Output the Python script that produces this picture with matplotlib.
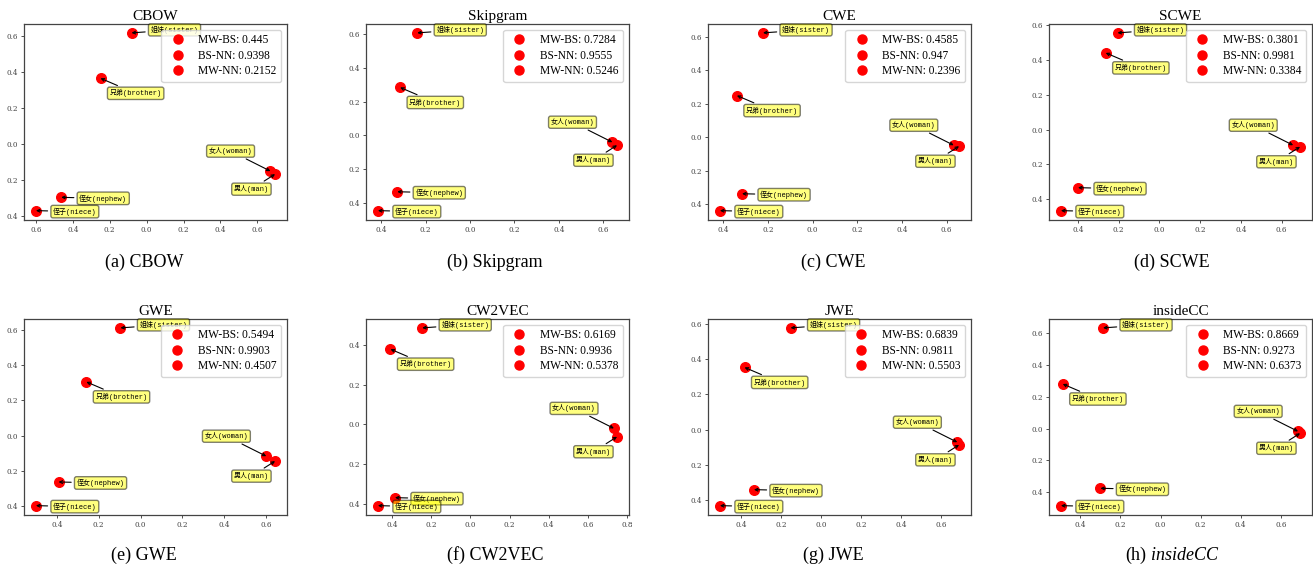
import matplotlib
matplotlib.use('Agg')
import matplotlib.pyplot as plt
from matplotlib.lines import Line2D
from matplotlib.ticker import FuncFormatter, MultipleLocator

plt.rcParams['font.family'] = ['Liberation Serif', 'Noto Sans CJK SC']
plt.rcParams['mathtext.fontset'] = 'custom'
plt.rcParams['mathtext.it'] = 'Liberation Serif:italic'
plt.rcParams['mathtext.rm'] = 'Liberation Serif'

# data
models = ['CBOW', 'Skipgram', 'CWE', 'SCWE', 'GWE', 'CW2VEC', 'JWE', 'insideCC']
captions = ['(a) CBOW', '(b) Skipgram', '(c) CWE', '(d) SCWE',
            '(e) GWE', '(f) CW2VEC', '(g) JWE', r'(h) $\mathit{insideCC}$']
words = ['姐妹(sister)', '兄弟(brother)', '女人(woman)', '男人(man)', '侄女(nephew)', '侄子(niece)']

mw_bs = [0.445, 0.7284, 0.4585, 0.3801, 0.5494, 0.6169, 0.6839, 0.8669]
bs_nn = [0.9398, 0.9555, 0.947, 0.9981, 0.9903, 0.9936, 0.9811, 0.9273]
mw_nn = [0.2152, 0.5246, 0.2396, 0.3384, 0.4507, 0.5378, 0.5503, 0.6373]

cbow_x = [-0.082, -0.250, 0.671, 0.696, -0.463, -0.600]
cbow_y = [0.618, 0.365, -0.152, -0.169, -0.298, -0.372]
skipgram_x = [-0.238, -0.315, 0.641, 0.662, -0.328, -0.415]
skipgram_y = [0.608, 0.284, -0.041, -0.059, -0.335, -0.447]
cwe_x = [-0.222, -0.339, 0.632, 0.656, -0.316, -0.415]
cwe_y = [0.624, 0.249, -0.048, -0.054, -0.338, -0.439]
scwe_x = [-0.206, -0.264, 0.657, 0.691, -0.400, -0.484]
scwe_y = [0.556, 0.441, -0.090, -0.099, -0.334, -0.466]
gwe_x = [-0.096, -0.259, 0.601, 0.643, -0.392, -0.500]
gwe_y = [0.610, 0.304, -0.117, -0.145, -0.263, -0.397]
cw2vec_x = [-0.246, -0.408, 0.733, 0.749, -0.385, -0.472]
cw2vec_y = [0.485, 0.378, -0.020, -0.062, -0.368, -0.408]
jwe_x = [-0.151, -0.381, 0.682, 0.691, -0.334, -0.504]
jwe_y = [0.579, 0.354, -0.072, -0.087, -0.342, -0.433]
insidecc_x = [-0.287, -0.488, 0.686, 0.696, -0.300, -0.497]
insidecc_y = [0.634, 0.281, -0.017, -0.029, -0.375, -0.484]

points_x = [cbow_x, skipgram_x, cwe_x, scwe_x, gwe_x, cw2vec_x, jwe_x, insidecc_x]
points_y = [cbow_y, skipgram_y, cwe_y, scwe_y, gwe_y, cw2vec_y, jwe_y, insidecc_y]

# layout (pixels)
W, H = 1313, 567
col_left = [24, 366, 708, 1049]
row_top = [24, 319]
ax_w, ax_h = 263, 195.5
caption_x = [144, 495, 833, 1172]
caption_y = [262, 555]

# label offsets in pixels and alignment, one per word
label_offsets = [(19, 3), (9, -15), (-18, 20), (-6, -15), (18, -1), (17, -1)]
label_ha = ['left', 'left', 'right', 'right', 'left', 'left']
label_font = ['Liberation Mono', 'Noto Sans CJK SC']

fig = plt.figure(figsize=(W / 100, H / 100), dpi=100)
no_minus = FuncFormatter(lambda v, p: '%.1f' % abs(v))

for i, name in enumerate(models):
    r, c = divmod(i, 4)
    ax = fig.add_axes([col_left[c] / W, 1 - (row_top[r] + ax_h) / H, ax_w / W, ax_h / H])
    xs, ys = points_x[i], points_y[i]
    ax.scatter(xs, ys, s=48, c='red', zorder=2)

    for j, w in enumerate(words):
        ax.annotate(w, xy=(xs[j], ys[j]), xytext=label_offsets[j], textcoords='offset pixels',
                    ha=label_ha[j], va='center', fontsize=5, family=label_font,
                    bbox=dict(boxstyle='round,pad=0.3', fc='yellow', alpha=0.5),
                    arrowprops=dict(arrowstyle='->', color='black', lw=0.8, shrinkB=0),
                    zorder=3)

    handles = [Line2D([], [], marker='o', ls='', color='red', markersize=6.5) for _ in range(3)]
    labels = ['MW-BS: ' + str(mw_bs[i]), 'BS-NN: ' + str(bs_nn[i]), 'MW-NN: ' + str(mw_nn[i])]
    ax.legend(handles, labels, loc='upper right', fontsize=8.3, labelspacing=0.3, borderpad=0.4)

    ax.set_title(name, fontsize=11, pad=3)
    ax.xaxis.set_major_locator(MultipleLocator(0.2))
    ax.yaxis.set_major_locator(MultipleLocator(0.2))
    ax.xaxis.set_major_formatter(no_minus)
    ax.yaxis.set_major_formatter(no_minus)
    ax.tick_params(labelsize=5.2, length=2.5, width=0.6, pad=2, colors='#333333', labelcolor='#444444')
    for lbl in ax.get_xticklabels() + ax.get_yticklabels():
        lbl.set_family('DejaVu Serif')
    for s in ax.spines.values():
        s.set_color('#444444')
        s.set_linewidth(0.9)

    fig.text(caption_x[c] / W, 1 - caption_y[r] / H, captions[i], ha='center', va='center', fontsize=13)

fig.savefig('out.png', dpi=100)
